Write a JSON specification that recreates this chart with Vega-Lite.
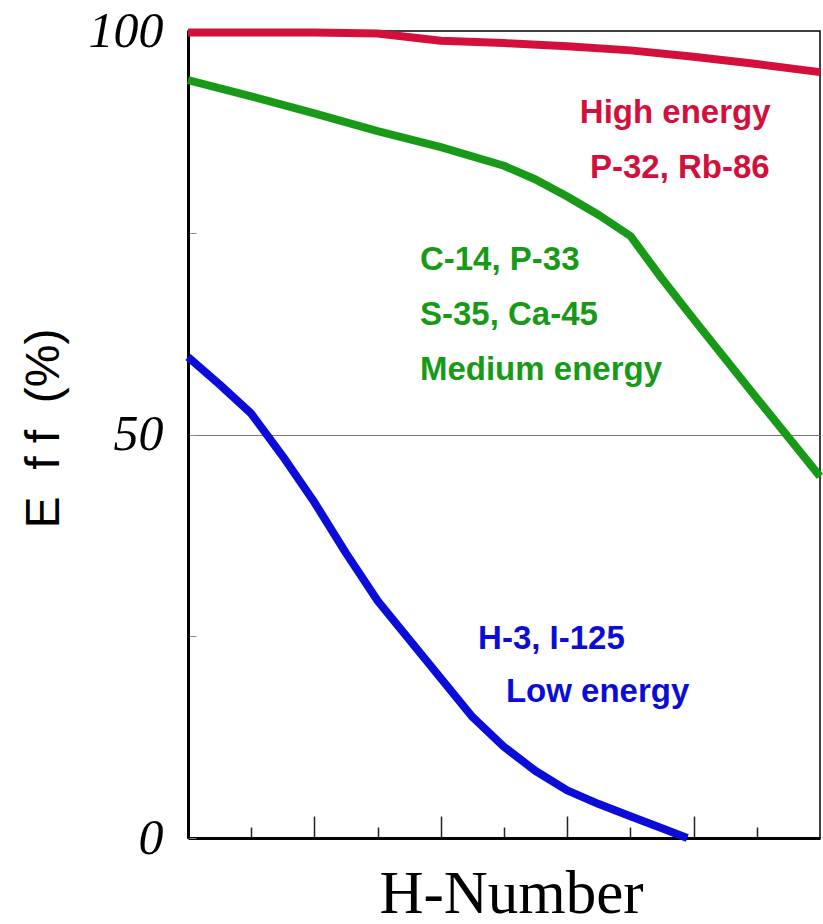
{
  "$schema": "https://vega.github.io/schema/vega-lite/v6.json",
  "width": 632,
  "height": 807,
  "autosize": "none",
  "padding": {"left": 188, "top": 31, "right": 3, "bottom": 86},
  "background": "white",
  "config": {"view": {"stroke": "black", "strokeWidth": 1.5}},
  "datasets": {
    "curves": [
      {"h": 0, "eff": 99.8, "series": "High"},
      {"h": 1, "eff": 99.8, "series": "High"},
      {"h": 2, "eff": 99.8, "series": "High"},
      {"h": 3, "eff": 99.7, "series": "High"},
      {"h": 4, "eff": 98.8, "series": "High"},
      {"h": 5, "eff": 98.5, "series": "High"},
      {"h": 6, "eff": 98.1, "series": "High"},
      {"h": 7, "eff": 97.6, "series": "High"},
      {"h": 8, "eff": 96.8, "series": "High"},
      {"h": 9, "eff": 95.9, "series": "High"},
      {"h": 10, "eff": 94.9, "series": "High"},
      {"h": 0, "eff": 93.9, "series": "Medium"},
      {"h": 1, "eff": 91.9, "series": "Medium"},
      {"h": 2, "eff": 89.8, "series": "Medium"},
      {"h": 3, "eff": 87.6, "series": "Medium"},
      {"h": 4, "eff": 85.6, "series": "Medium"},
      {"h": 5, "eff": 83.3, "series": "Medium"},
      {"h": 5.5, "eff": 81.6, "series": "Medium"},
      {"h": 6, "eff": 79.5, "series": "Medium"},
      {"h": 6.5, "eff": 77.2, "series": "Medium"},
      {"h": 7, "eff": 74.6, "series": "Medium"},
      {"h": 7.5, "eff": 69.3, "series": "Medium"},
      {"h": 8, "eff": 64.3, "series": "Medium"},
      {"h": 9, "eff": 54.5, "series": "Medium"},
      {"h": 10, "eff": 44.8, "series": "Medium"},
      {"h": 0, "eff": 59.6, "series": "Low"},
      {"h": 0.5, "eff": 56.2, "series": "Low"},
      {"h": 1, "eff": 52.6, "series": "Low"},
      {"h": 1.5, "eff": 47.3, "series": "Low"},
      {"h": 2, "eff": 41.6, "series": "Low"},
      {"h": 2.5, "eff": 35.3, "series": "Low"},
      {"h": 3, "eff": 29.4, "series": "Low"},
      {"h": 3.5, "eff": 24.6, "series": "Low"},
      {"h": 4, "eff": 19.8, "series": "Low"},
      {"h": 4.5, "eff": 15.0, "series": "Low"},
      {"h": 5, "eff": 11.3, "series": "Low"},
      {"h": 5.5, "eff": 8.3, "series": "Low"},
      {"h": 6, "eff": 5.9, "series": "Low"},
      {"h": 6.5, "eff": 4.2, "series": "Low"},
      {"h": 7, "eff": 2.7, "series": "Low"},
      {"h": 7.5, "eff": 1.2, "series": "Low"},
      {"h": 7.9, "eff": 0, "series": "Low"}
    ],
    "labels": [
      {"h": 6.2, "eff": 88.6, "text": "High energy", "series": "High"},
      {"h": 6.36, "eff": 81.8, "text": "P-32, Rb-86", "series": "High"},
      {"h": 3.67, "eff": 70.4, "text": "C-14, P-33", "series": "Medium"},
      {"h": 3.67, "eff": 63.6, "text": "S-35, Ca-45", "series": "Medium"},
      {"h": 3.67, "eff": 56.8, "text": "Medium energy", "series": "Medium"},
      {"h": 4.59, "eff": 23.4, "text": "H-3, I-125", "series": "Low"},
      {"h": 5.03, "eff": 16.9, "text": "Low energy", "series": "Low"}
    ]
  },
  "layer": [
    {
      "data": {"name": "curves"},
      "mark": {"type": "line", "strokeWidth": 8, "strokeCap": "butt", "strokeJoin": "round"},
      "encoding": {
        "x": {
          "field": "h",
          "type": "quantitative",
          "scale": {"domain": [0, 10], "nice": false, "zero": false},
          "axis": {
            "title": "H-Number",
            "labels": false,
            "values": [1, 2, 3, 4, 5, 6, 7, 8, 9],
            "tickSize": {"condition": {"test": "datum.value % 2 == 0", "value": -22}, "value": -11},
            "tickColor": "#222222",
            "tickWidth": 1.5,
            "domainColor": "black",
            "domainWidth": 3,
            "grid": false,
            "titleFont": "Liberation Serif",
            "titleFontSize": 61,
            "titleFontWeight": "normal",
            "titleColor": "black",
            "titleBaseline": "alphabetic",
            "titleAlign": "center",
            "titleX": 323,
            "titleY": 74
          }
        },
        "y": {
          "field": "eff",
          "type": "quantitative",
          "scale": {"domain": [0, 100], "nice": false},
          "axis": {
            "title": "E\u00a0\u00a0f\u00a0f\u00a0\u00a0(%)",
            "values": [0, 25, 50, 75, 100],
            "labelExpr": "datum.value % 50 == 0 ? datum.label : ''",
            "labelFont": "Liberation Serif",
            "labelFontStyle": "italic",
            "labelFontSize": 50,
            "labelColor": "black",
            "labelPadding": 33,
            "labelFlush": false,
            "tickSize": -8,
            "tickColor": "#888888",
            "tickWidth": 1,
            "domainColor": "black",
            "domainWidth": 3,
            "grid": true,
            "gridColor": "#777777",
            "gridWidth": 1,
            "gridOpacity": {"condition": {"test": "datum.value == 50", "value": 1}, "value": 0},
            "titleFont": "Liberation Sans",
            "titleFontSize": 48,
            "titleFontWeight": "normal",
            "titleColor": "black",
            "titleBaseline": "alphabetic",
            "titleAlign": "center",
            "titleAngle": -90,
            "titleX": -130,
            "titleY": 397
          }
        },
        "color": {
          "field": "series",
          "type": "nominal",
          "scale": {"domain": ["High", "Medium", "Low"], "range": ["#d3103c", "#189a18", "#0c0cd8"]},
          "legend": null
        }
      }
    },
    {
      "data": {"name": "labels"},
      "mark": {"type": "text", "font": "Liberation Sans", "fontWeight": "bold", "fontSize": 33, "align": "left", "baseline": "alphabetic"},
      "encoding": {
        "x": {"field": "h", "type": "quantitative"},
        "y": {"field": "eff", "type": "quantitative"},
        "text": {"field": "text"},
        "color": {
          "field": "series",
          "type": "nominal",
          "scale": {"domain": ["High", "Medium", "Low"], "range": ["#d3103c", "#189a18", "#0c0cd8"]},
          "legend": null
        }
      }
    }
  ]
}
